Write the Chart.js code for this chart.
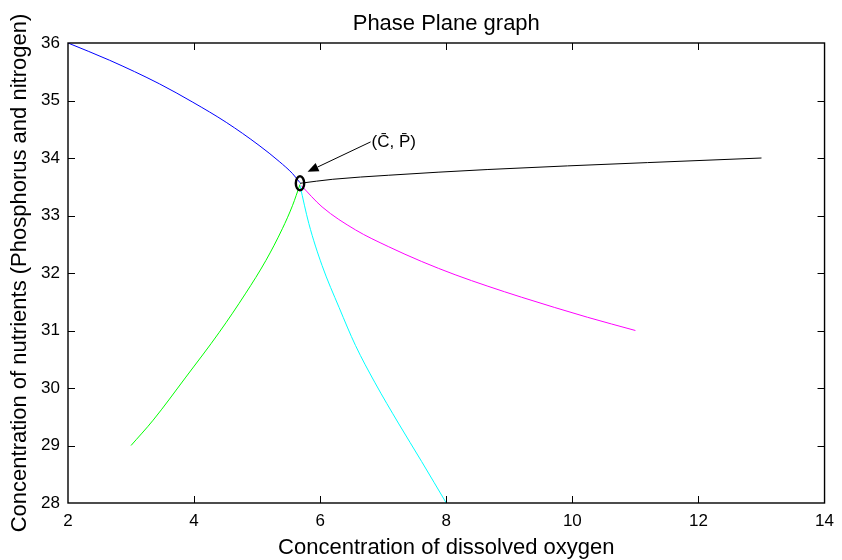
<!DOCTYPE html>
<html>
<head>
<meta charset="utf-8">
<title>Phase Plane graph</title>
<script src="https://cdn.jsdelivr.net/npm/chart.js@4.4.1/dist/chart.umd.min.js"></script>
<style>
  html, body { margin: 0; padding: 0; background: #fff; }
  #wrap { width: 842px; height: 560px; }
</style>
</head>
<body>
<div id="wrap"><canvas id="phaseChart" width="842" height="560"></canvas></div>
<script>
// trajectories (x = dissolved oxygen, y = nutrients)
const blueX = [2.0, 2.66, 3.45, 3.98, 4.51, 5.03, 5.35, 5.56, 5.68];
const blueY = [36.0, 35.70, 35.29, 34.97, 34.62, 34.22, 33.94, 33.73, 33.57];

const blackX = [5.68, 6.2, 7.08, 8.66, 11.19, 13.0];
const blackY = [33.56, 33.63, 33.70, 33.80, 33.92, 34.0];

const magentaX = [5.70, 6.03, 6.56, 7.08, 7.61, 8.14, 8.66, 9.19, 9.72, 10.24, 11.0];
const magentaY = [33.52, 33.15, 32.75, 32.46, 32.20, 31.97, 31.77, 31.58, 31.40, 31.23, 31.0];

const greenX = [3.0, 3.35, 3.87, 4.40, 4.82, 5.14, 5.40, 5.56, 5.68];
const greenY = [29.0, 29.44, 30.19, 30.97, 31.65, 32.22, 32.77, 33.17, 33.54];

const cyanX = [5.68, 5.82, 6.03, 6.30, 6.56, 6.87, 7.24, 7.61, 8.0];
const cyanY = [33.52, 32.86, 32.13, 31.40, 30.74, 30.09, 29.39, 28.72, 28.0];

const xTicks = [2, 4, 6, 8, 10, 12, 14];
const yTicks = [28, 29, 30, 31, 32, 33, 34, 35, 36];

// equilibrium point and its label (data units)
const equilibrium = { x: 5.68, y: 33.56 };
const labelAt = { x: 6.80, y: 34.28 };
const arrowTip = { x: 5.80, y: 33.76 };
const labelText = '(C\u0304, P\u0304)';

function toPoints(xs, ys) {
  return xs.map((x, i) => ({ x: x, y: ys[i] }));
}

function curve(xs, ys, color) {
  return {
    data: toPoints(xs, ys),
    borderColor: color,
    borderWidth: 1,
    pointRadius: 0,
    fill: false,
    cubicInterpolationMode: 'monotone'
  };
}

// matlab-like box, inward ticks and the annotation
const matlabBox = {
  id: 'matlabBox',
  afterDraw(chart) {
    const ctx = chart.ctx;
    const a = chart.chartArea;
    const xs = chart.scales.x;
    const ys = chart.scales.y;
    const tl = 7;

    ctx.save();
    ctx.strokeStyle = '#000';
    ctx.lineWidth = 1;
    ctx.beginPath();
    // inner ticks, the ones on the box edges are skipped
    xTicks.slice(1, -1).forEach(v => {
      const px = Math.round(xs.getPixelForValue(v)) + 0.5;
      ctx.moveTo(px, a.bottom); ctx.lineTo(px, a.bottom - tl);
      ctx.moveTo(px, a.top); ctx.lineTo(px, a.top + tl);
    });
    yTicks.slice(1, -1).forEach(v => {
      const py = Math.round(ys.getPixelForValue(v)) + 0.5;
      ctx.moveTo(a.left, py); ctx.lineTo(a.left + tl, py);
      ctx.moveTo(a.right, py); ctx.lineTo(a.right - tl, py);
    });
    ctx.stroke();

    ctx.lineWidth = 1.4;
    ctx.strokeRect(a.left, a.top, a.right - a.left, a.bottom - a.top);

    // equilibrium marker
    const ex = xs.getPixelForValue(equilibrium.x);
    const ey = ys.getPixelForValue(equilibrium.y);
    ctx.lineWidth = 2.4;
    ctx.beginPath();
    ctx.ellipse(ex, ey, 4.2, 7, 0, 0, Math.PI * 2);
    ctx.stroke();

    // arrow
    const tx = xs.getPixelForValue(labelAt.x);
    const ty = ys.getPixelForValue(labelAt.y);
    const hx = xs.getPixelForValue(arrowTip.x);
    const hy = ys.getPixelForValue(arrowTip.y);
    const ang = Math.atan2(hy - ty, hx - tx);
    const hl = 11, hw = 4.5;
    const bx = hx - hl * Math.cos(ang);
    const by = hy - hl * Math.sin(ang);
    ctx.lineWidth = 1;
    ctx.beginPath();
    ctx.moveTo(tx, ty);
    ctx.lineTo(bx, by);
    ctx.stroke();
    ctx.fillStyle = '#000';
    ctx.beginPath();
    ctx.moveTo(hx, hy);
    ctx.lineTo(bx + hw * Math.sin(ang), by - hw * Math.cos(ang));
    ctx.lineTo(bx - hw * Math.sin(ang), by + hw * Math.cos(ang));
    ctx.closePath();
    ctx.fill();

    ctx.font = '17px "Liberation Sans", Arial, Helvetica, sans-serif';
    ctx.textAlign = 'left';
    ctx.textBaseline = 'middle';
    ctx.fillText(labelText, tx + 1, ty);
    ctx.restore();
  }
};

Chart.defaults.font.family = '"Liberation Sans", Arial, Helvetica, sans-serif';
Chart.defaults.color = '#000';

const ctx = document.getElementById('phaseChart').getContext('2d');
new Chart(ctx, {
  type: 'line',
  data: {
    datasets: [
      curve(blueX, blueY, '#0000ff'),
      curve(blackX, blackY, '#000000'),
      curve(magentaX, magentaY, '#ff00ff'),
      curve(greenX, greenY, '#00ff00'),
      curve(cyanX, cyanY, '#00ffff')
    ]
  },
  options: {
    responsive: false,
    devicePixelRatio: 1,
    animation: false,
    layout: { padding: { left: 0, right: 13, top: 0, bottom: 0 } },
    plugins: {
      legend: { display: false },
      tooltip: { enabled: false },
      title: {
        display: true,
        fullSize: false,
        text: 'Phase Plane graph',
        color: '#000',
        font: { size: 22, weight: 'normal', lineHeight: 1.2 },
        padding: { top: 11, bottom: 5.6 }
      }
    },
    scales: {
      x: {
        type: 'linear',
        min: 2,
        max: 14,
        afterBuildTicks: s => { s.ticks = xTicks.map(v => ({ value: v })); },
        afterFit: s => { s.height = 57; },
        grid: { display: false, drawTicks: false },
        border: { display: false },
        ticks: { padding: 8, font: { size: 17 }, maxRotation: 0 },
        title: {
          display: true,
          text: 'Concentration of dissolved oxygen',
          font: { size: 22, lineHeight: 1 },
          padding: { top: 0, bottom: 1 }
        }
      },
      y: {
        type: 'linear',
        min: 28,
        max: 36,
        afterBuildTicks: s => { s.ticks = yTicks.map(v => ({ value: v })); },
        afterFit: s => { s.width = 68; },
        grid: { display: false, drawTicks: false },
        border: { display: false },
        ticks: { padding: 8, font: { size: 17 } },
        title: {
          display: true,
          text: 'Concentration of nutrients (Phosphorus and nitrogen)',
          font: { size: 22, lineHeight: 1 },
          padding: { top: 9, bottom: 0 }
        }
      }
    }
  },
  plugins: [matlabBox]
});
</script>
</body>
</html>
